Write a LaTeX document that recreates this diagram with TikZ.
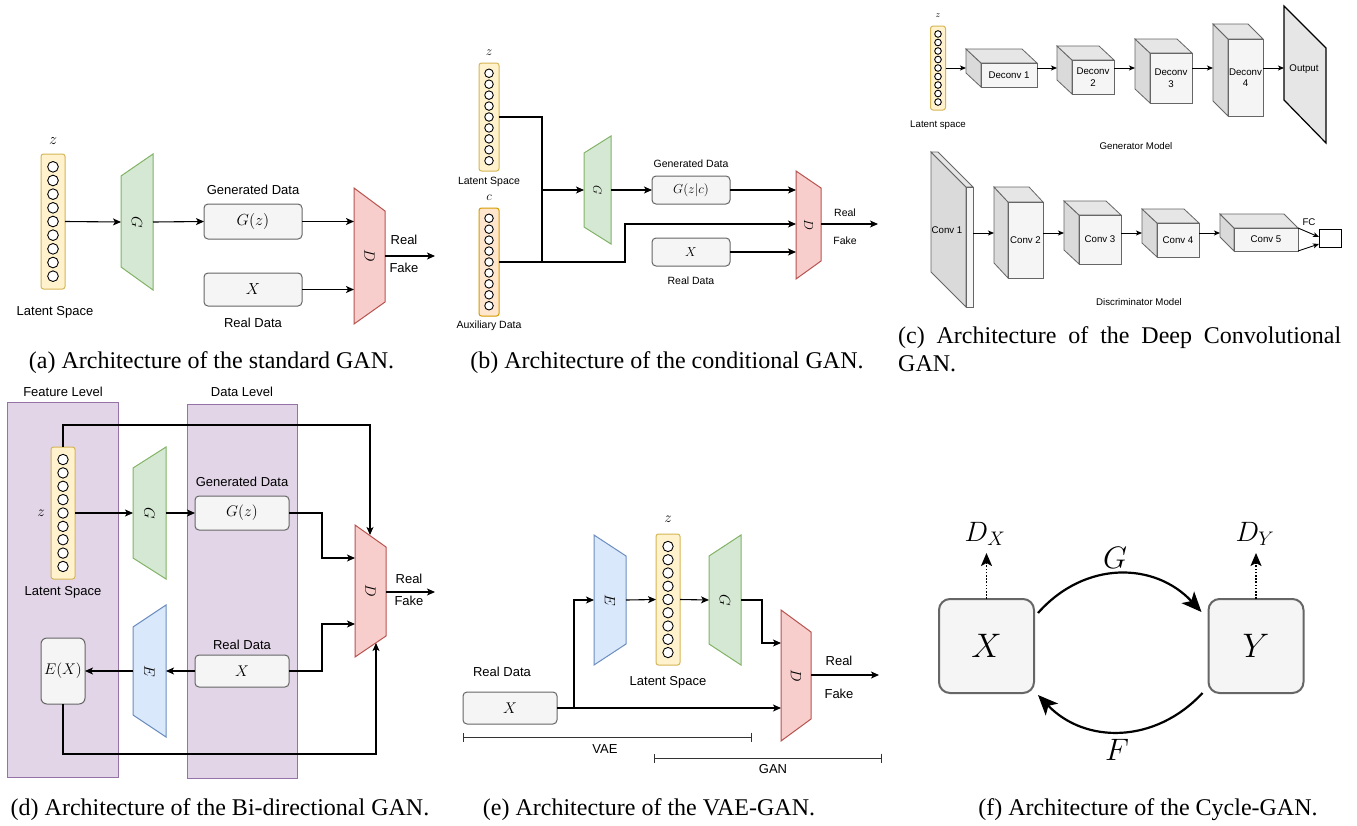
\RequirePackage{fix-cm}
\documentclass[tikz,border=0pt]{standalone}
\usepackage[no-math]{fontspec}
\usepackage{graphicx}
\newfontfamily\arialf{Liberation Sans}
\newfontfamily\serff{Liberation Serif}
\usetikzlibrary{arrows.meta}
\definecolor{gfill}{HTML}{D5E8D4}\definecolor{gdraw}{HTML}{82B366}
\definecolor{rfill}{HTML}{F8CECC}\definecolor{rdraw}{HTML}{B85450}
\definecolor{bfill}{HTML}{DAE8FC}\definecolor{bdraw}{HTML}{6C8EBF}
\definecolor{yfill}{HTML}{FFF2CC}\definecolor{ydraw}{HTML}{D6B656}
\definecolor{ofill}{HTML}{FFE6CC}\definecolor{odraw}{HTML}{D79B00}
\definecolor{pfill}{HTML}{E1D5E7}\definecolor{pdraw}{HTML}{9673A6}
\definecolor{boxfill}{HTML}{F5F5F5}\definecolor{boxdraw}{HTML}{666666}
\definecolor{cside}{HTML}{DADADA}\definecolor{ctop}{HTML}{E6E6E6}
\definecolor{cfront}{HTML}{F5F5F5}
\tikzset{
  arr/.style={line width=1.1pt,-{Stealth[length=8pt,width=7pt,inset=2pt]}},
  carr/.style={line width=0.9pt,-{Stealth[length=6pt,width=5pt,inset=1.5pt]}},
  ln/.style={line width=1.1pt},
  databox/.style={draw=boxdraw,fill=boxfill,rounded corners=4pt,line width=1pt,inner sep=0,outer sep=0},
  lbl/.style={font=\arialf\fontsize{13}{15}\selectfont,inner sep=0},
  lblb/.style={font=\arialf\fontsize{10.5}{12}\selectfont,inner sep=0},
  lblc/.style={font=\arialf\fontsize{9.7}{11.5}\selectfont,inner sep=0},
  ma/.style={font=\fontsize{16}{18}\selectfont,inner sep=0},
  mb/.style={font=\fontsize{13}{15}\selectfont,inner sep=0},
  mc/.style={font=\fontsize{9}{11}\selectfont,inner sep=0},
  gsty/.style={fill=gfill,draw=gdraw,line width=1pt},
  rsty/.style={fill=rfill,draw=rdraw,line width=1pt},
  bsty/.style={fill=bfill,draw=bdraw,line width=1pt},
  cubeline/.style={draw=boxdraw,line width=0.8pt},
  captxt/.style={font=\serff\fontsize{24}{28}\selectfont,inner sep=0,anchor=base},
  fbox/.style={draw=boxdraw,fill=boxfill,rounded corners=11pt,line width=2pt,minimum width=95,minimum height=94,inner sep=0,outer sep=0,font=\fontsize{34}{40}\selectfont},
  fm/.style={font=\fontsize{31}{36}\selectfont,inner sep=0},
  curv/.style={line width=2.2pt,-{Stealth[length=20pt,width=17pt,inset=5pt]}},
  dotarr/.style={line width=1.8pt,dash pattern=on 1.6pt off 1.6pt,-{Stealth[length=13pt,width=11pt,inset=3pt]}},
  brk/.style={line width=1pt,draw=black!80,{Bar[width=9pt]}-{Bar[width=9pt]}}
}
% latent vector: name, cx, ytop, ybot, width, fill, draw
\newcommand\latvec[7]{%
  \node[draw=#7,fill=#6,rounded corners=2.5pt,line width=1pt,minimum width=#5,minimum height={#4-#3},inner sep=0,outer sep=0] (#1) at (#2,{(#3+#4)/2}) {};
  \pgfmathsetmacro\lvh{#4-#3}%
  \pgfmathsetmacro\lvs{\lvh*0.81/8}%
  \pgfmathsetmacro\lvr{\lvs*0.39}%
  \foreach \k in {0,...,8}{\node[circle,draw=black,fill=white,line width=0.9pt,minimum size={2*\lvr},inner sep=0] (#1c\k) at (#2,{#3+0.095*\lvh+\k*\lvs}) {};}%
}
% trapezoid: name, x1, x2, left y1, left y2, right y1, right y2, style, label
\newcommand\trapz[9]{%
  \draw[#8] (#2,#4) -- (#3,#6) -- (#3,#7) -- (#2,#5) -- cycle;
  \node[inner sep=0,outer sep=0,minimum width={#3-#2},minimum height={max(#5,#7)-min(#4,#6)}] (#1) at ({(#2+#3)/2},{(min(#4,#6)+max(#5,#7))/2}) {\rotatebox{-90}{#9}};%
}
% cuboid: name, back x, back y, front x1, front x2, front y1, front y2, label
\newcommand\cuboid[8]{%
  \pgfmathsetmacro\cdx{#4-#2}%
  \pgfmathsetmacro\cdy{#6-#3}%
  \draw[cubeline,fill=cside] (#2,#3) -- (#4,#6) -- (#4,#7) -- (#2,{#7-\cdy}) -- cycle;
  \draw[cubeline,fill=ctop] (#2,#3) -- ({#5-\cdx},#3) -- (#5,#6) -- (#4,#6) -- cycle;
  \coordinate (#1l) at (#2,#3);
  \node[cubeline,fill=cfront,minimum width={#5-#4},minimum height={#7-#6},inner sep=0,outer sep=0,align=center,font=\arialf\fontsize{9.7}{11.5}\selectfont] (#1) at ({(#4+#5)/2},{(#6+#7)/2}) {#8};%
}
\begin{document}
\begin{tikzpicture}[x=1pt,y=-1pt]
\fill[white] (0,0) rectangle (1357,825);
\useasboundingbox (0,0) rectangle (1357,825);

% ---------------- (a) ----------------
\latvec{lata}{53}{154}{289}{24}{yfill}{ydraw}
\node[ma] (za) at (53,141) {$z$};
\node[lbl] (lsa) at (55,312) {Latent Space};
\trapz{Ga}{121}{153}{176}{267}{154}{290}{gsty}{\fontsize{15}{17}\selectfont$G$}
\node[databox,minimum width=98,minimum height=35] (gza) at (253,221.5) {\fontsize{16}{18}\selectfont$G(z)$};
\node[lbl] (gda) at (253,190) {Generated Data};
\node[databox,minimum width=98,minimum height=33] (xa) at (253,289.5) {\fontsize{16}{18}\selectfont$X$};
\node[lbl] (rda) at (253,323) {Real Data};
\trapz{Da}{354}{385}{188}{324}{211}{302}{rsty}{\fontsize{15}{17}\selectfont$D$}
\draw[arr] (lata.east) -- (Ga.west);
\draw[arr] (Ga.east) -- (gza.west);
\draw[arr] (gza.east) -- (gza.east -| Da.west);
\draw[arr] (xa.east) -- (xa.east -| Da.west);
\coordinate (oa) at (435,256);
\draw[arr] (Da.east |- oa) -- (oa);
\node[lbl] (reala) at (404,240) {Real};
\node[lbl] (fakea) at (404,268) {Fake};
\node[captxt] (capa) at (211.5,368) {(a) Architecture of the standard GAN.};

% ---------------- (b) ----------------
\latvec{latb}{489}{63}{171}{20}{yfill}{ydraw}
\node[mb] (zb) at (489,53) {$z$};
\node[lblb] (lsb) at (489,182) {Latent Space};
\node[mb] (cb) at (489,198) {$c$};
\latvec{auxb}{489}{208}{316}{20}{ofill}{odraw}
\node[lblb] (adb) at (489,326) {Auxiliary Data};
\trapz{Gb}{584}{611}{153}{227}{136}{244}{gsty}{\fontsize{12}{14}\selectfont$G$}
\node[databox,minimum width=78,minimum height=28] (gzb) at (691,190) {\fontsize{13}{15}\selectfont$G(z|c)$};
\node[lblb] (gdb) at (691,164) {Generated Data};
\node[databox,minimum width=78,minimum height=28] (xb) at (691,252) {\fontsize{13}{15}\selectfont$X$};
\node[lblb] (rdb) at (691,281) {Real Data};
\trapz{Db}{796}{821}{171}{279}{188}{261}{rsty}{\fontsize{13}{15}\selectfont$D$}
\coordinate (jb) at (542,262);
\coordinate (kb) at (625,224);
\coordinate (ob) at (878,224);
\draw[ln] (latb.east) -| (jb);
\draw[ln] (auxb.east) -- (jb);
\draw[arr] (jb |- Gb.west) -- (Gb.west);
\draw[arr] (jb) -| (kb) -- (kb -| Db.west);
\draw[arr] (Gb.east) -- (gzb.west);
\draw[arr] (gzb.east) -- (gzb.east -| Db.west);
\draw[arr] (xb.east) -- (xb.east -| Db.west);
\draw[arr] (Db.east |- ob) -- (ob);
\node[lblb] (realb) at (845,213) {Real};
\node[lblb] (fakeb) at (845,241) {Fake};
\node[captxt] (capb) at (667,368) {(b) Architecture of the conditional GAN.};

% ---------------- (c) ----------------
\latvec{latc}{938}{26}{110}{15}{yfill}{ydraw}
\node[mc] (zc) at (938,16) {$z$};
\node[lblc] (lsc) at (938,125) {Latent space};
\cuboid{dc1}{966}{49}{981}{1037}{63}{87}{Deconv 1}
\cuboid{dc2}{1057}{46}{1072}{1114}{60}{94}{Deconv\\2}
\cuboid{dc3}{1135}{39}{1150}{1192}{53}{103}{Deconv\\3}
\cuboid{dc4}{1213}{24}{1228}{1263}{39}{116}{Deconv\\4}
\draw[line width=1.2pt,fill=ctop] (1284,6) -- (1326,48) -- (1326,143) -- (1284,100) -- cycle;
\coordinate (outl) at (1284,6);
\node[lblc] (outc) at (1304,69) {Output};
\coordinate (cy) at (0,68);
\draw[carr] (latc.east) -- (latc.east -| dc1l);
\draw[carr] (dc1.east |- cy) -- (dc2l |- cy);
\draw[carr] (dc2.east |- cy) -- (dc3l |- cy);
\draw[carr] (dc3.east |- cy) -- (dc4l |- cy);
\draw[carr] (dc4.east |- cy) -- (outl |- cy);
\node[lblc] (genm) at (1136,146) {Generator Model};

\draw[cubeline,fill=cside] (931,152) -- (966,187) -- (966,307) -- (931,272) -- cycle;
\draw[cubeline,fill=ctop] (931,152) -- (938,152) -- (973,187) -- (966,187) -- cycle;
\node[cubeline,fill=cfront,minimum width=7,minimum height=120,inner sep=0,outer sep=0] (cv1) at (969.5,247) {};
\node[lblc] (cv1t) at (947,230) {Conv 1};
\cuboid{cv2}{994}{187}{1008}{1043}{202}{278}{Conv 2}
\cuboid{cv3}{1064}{201}{1079}{1121}{215}{264}{Conv 3}
\cuboid{cv4}{1142}{209}{1157}{1199}{223}{257}{Conv 4}
\cuboid{cv5}{1220}{214}{1234}{1298}{228}{251}{Conv 5}
\node[draw=black,line width=1pt,minimum width=22,minimum height=18,inner sep=0,outer sep=0] (fc) at (1330,238) {};
\node[lblc] (fct) at (1309,222) {FC};
\coordinate (cy2) at (0,233);
\draw[carr] (cv1.east |- cy2) -- (cv2l |- cy2);
\draw[carr] (cv2.east |- cy2) -- (cv3l |- cy2);
\draw[carr] (cv3.east |- cy2) -- (cv4l |- cy2);
\draw[carr] (cv4.east |- cy2) -- (cv5l |- cy2);
\draw[carr] (cv5.north east) -- ([yshift=1pt]fc.west);
\draw[carr] (cv5.south east) -- ([yshift=-6pt]fc.west);
\node[lblc] (discm) at (1139,302) {Discriminator Model};
\node[captxt,anchor=base west,align=left] (capc) at (898,371.5) {\makebox[443pt][s]{(c) Architecture of the Deep Convolutional}\\GAN.};

% ---------------- (d) ----------------
\node[draw=pdraw,fill=pfill,line width=1pt,minimum width=111,minimum height=375,inner sep=0,outer sep=0] (featl) at (62.5,589.5) {};
\node[draw=pdraw,fill=pfill,line width=1pt,minimum width=110,minimum height=374,inner sep=0,outer sep=0] (datal) at (242,591) {};
\node[lbl] (featt) at (63,392) {Feature Level};
\node[lbl] (datat) at (242,392) {Data Level};
\latvec{latd}{63}{447}{579}{24}{yfill}{ydraw}
\node[ma,font=\fontsize{15}{17}\selectfont] (zd) at (41,513) {$z$};
\node[lbl] (lsd) at (63,592) {Latent Space};
\trapz{Gd}{133}{166}{468}{558}{447}{579}{gsty}{\fontsize{15}{17}\selectfont$G$}
\node[databox,minimum width=94,minimum height=34] (gzd) at (242,513) {\fontsize{15.5}{17}\selectfont$G(z)$};
\node[lbl] (gdd) at (242,482) {Generated Data};
\trapz{Ed}{133}{166}{627}{715}{605}{737}{bsty}{\fontsize{15}{17}\selectfont$E$}
\node[databox,minimum width=94,minimum height=32] (xd) at (242,671) {\fontsize{15.5}{17}\selectfont$X$};
\node[lbl] (rdd) at (242,645) {Real Data};
\node[databox,rounded corners=6pt,minimum width=44,minimum height=66] (exd) at (63,671) {\fontsize{15.5}{17}\selectfont$E(X)$};
\trapz{Dd}{355}{386}{525}{657}{547}{636}{rsty}{\fontsize{15}{17}\selectfont$D$}
\draw[arr] (latd.east) -- (Gd.west);
\draw[arr] (Gd.east) -- (gzd.west);
\coordinate (pd1) at (322,558);
\draw[arr] (gzd.east) -| (pd1) -- (pd1 -| Dd.west);
\coordinate (pd2) at (322,624);
\draw[arr] (xd.east) -| (pd2) -- (pd2 -| Dd.west);
\draw[arr] (xd.west) -- (Ed.east);
\draw[arr] (Ed.west) -- (exd.east);
\coordinate (pd3) at (370,425);
\coordinate (pd4) at (370,535);
\draw[arr] (latd.north) |- (pd3) -- (pd4);
\coordinate (pd5) at (376,754);
\coordinate (pd6) at (376,643);
\draw[arr] (exd.south) |- (pd5) -- (pd6);
\coordinate (od) at (435,592);
\draw[arr] (Dd.east |- od) -- (od);
\node[lbl] (reald) at (409,579) {Real};
\node[lbl] (faked) at (409,601) {Fake};
\node[captxt] (capd) at (220,815) {(d) Architecture of the Bi-directional GAN.};

% ---------------- (e) ----------------
\trapz{Ee}{594}{626}{535}{665}{556}{644}{bsty}{\fontsize{15}{17}\selectfont$E$}
\latvec{late}{668}{534}{665}{24}{yfill}{ydraw}
\node[ma,font=\fontsize{15}{17}\selectfont] (ze) at (668,519) {$z$};
\node[lbl] (lse) at (668,682) {Latent Space};
\trapz{Ge}{709}{741}{556}{644}{535}{665}{gsty}{\fontsize{15}{17}\selectfont$G$}
\trapz{De}{781}{811}{610}{741}{632}{719}{rsty}{\fontsize{15}{17}\selectfont$D$}
\node[lbl] (rde) at (502,672) {Real Data};
\node[databox,minimum width=94,minimum height=32] (xe) at (510,708) {\fontsize{15.5}{17}\selectfont$X$};
\draw[arr] (xe.east) -- (xe.east -| De.west);
\coordinate (pe1) at (574,708);
\draw[arr] (pe1) |- (Ee.west);
\draw[arr] (Ee.east) -- (late.west);
\draw[arr] (late.east) -- (Ge.west);
\coordinate (pe2) at (762,643);
\draw[arr] (Ge.east) -| (pe2) -- (pe2 -| De.west);
\coordinate (oe) at (879,675);
\draw[arr] (De.east |- oe) -- (oe);
\node[lbl] (reale) at (839,661) {Real};
\node[lbl] (fakee) at (839,694) {Fake};
\coordinate (vae1) at (463,737);
\coordinate (vae2) at (752,737);
\draw[brk] (vae1) -- (vae2);
\node[lbl] (vaet) at (605,749) {VAE};
\coordinate (gan1) at (654,758);
\coordinate (gan2) at (882,758);
\draw[brk] (gan1) -- (gan2);
\node[lbl] (gant) at (773,769) {GAN};
\node[captxt] (cape) at (649,815) {(e) Architecture of the VAE-GAN.};

% ---------------- (f) ----------------
\node[fbox] (Xf) at (986.5,646) {$X$};
\node[fbox] (Yf) at (1256,646) {$Y$};
\node[fm,font=\fontsize{28}{32}\selectfont] (DX) at (985,534) {$D_X$};
\node[fm,font=\fontsize{28}{32}\selectfont] (DY) at (1255,534) {$D_Y$};
\coordinate (dxt) at (986,553);
\coordinate (dyt) at (1256,553);
\draw[dotarr] (Xf.north) -- (Xf.north |- dxt);
\draw[dotarr] (Yf.north) -- (Yf.north |- dyt);
\draw[curv] ([xshift=4pt,yshift=-14pt]Xf.north east) .. controls (1085,560) and (1155,562) .. ([xshift=-7pt,yshift=-13pt]Yf.north west);
\draw[curv] ([xshift=-6pt]Yf.south west) .. controls (1155,744) and (1085,744) .. ([xshift=4pt,yshift=-2pt]Xf.south east);
\node[fm] (Gl) at (1115,558) {$G$};
\node[fm] (Fl) at (1117,750) {$F$};
\node[captxt] (capf) at (1148,815) {(f) Architecture of the Cycle-GAN.};
\end{tikzpicture}
\end{document}
